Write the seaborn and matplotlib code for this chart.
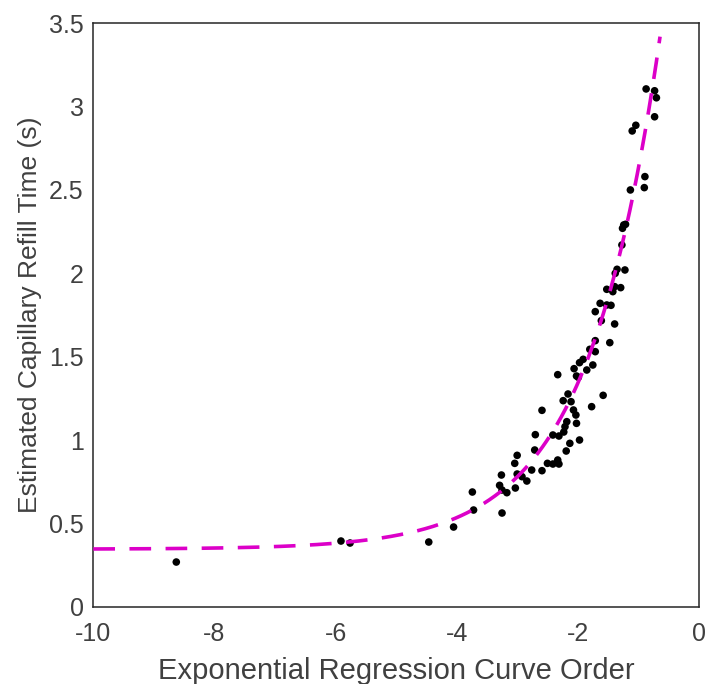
import numpy as np
import pandas as pd
import matplotlib
matplotlib.use("Agg")
import matplotlib.pyplot as plt
import seaborn as sns

curve_order = [
    -8.63, -5.91, -5.76, -4.46, -4.05, -3.74, -3.72, -3.25, -3.26, -3.29,
    -3.25, -3.17, -3.03, -3.04, -3.00, -3.00, -2.92, -2.84, -2.76, -2.59,
    -2.71, -2.70, -2.59, -2.50, -2.41, -2.33, -2.31, -2.41, -2.31, -2.19,
    -2.13, -1.97, -2.23, -2.21, -2.18, -2.02, -2.03, -2.07, -2.24, -2.11,
    -2.16, -2.33, -1.77, -1.58, -2.06, -2.02, -1.99, -1.97, -1.91, -1.85,
    -1.75, -1.80, -1.71, -1.71, -1.47, -1.61, -1.39, -1.71, -1.63, -1.52,
    -1.45, -0.87, -0.73, -0.70, -0.73, -1.04, -1.10, -0.89, -0.90, -1.13,
    -1.24, -1.21, -1.26, -1.27, -1.22, -1.38, -1.35, -1.52, -1.39, -1.29,
    -1.42,
]
refill_time = [
    0.268, 0.394, 0.382, 0.388, 0.478, 0.688, 0.580, 0.562, 0.790, 0.728,
    0.700, 0.684, 0.712, 0.860, 0.908, 0.796, 0.780, 0.754, 0.820, 0.816,
    0.940, 1.032, 1.178, 0.860, 0.856, 0.880, 0.856, 1.030, 1.024, 0.934,
    0.980, 1.000, 1.048, 1.080, 1.110, 1.100, 1.150, 1.180, 1.236, 1.230,
    1.276, 1.392, 1.200, 1.268, 1.428, 1.384, 1.376, 1.464, 1.484, 1.420,
    1.450, 1.544, 1.530, 1.596, 1.584, 1.716, 1.696, 1.770, 1.820, 1.810,
    1.808, 3.106, 3.095, 3.053, 2.939, 2.888, 2.854, 2.580, 2.514, 2.500,
    2.290, 2.294, 2.270, 2.170, 2.020, 2.000, 2.024, 1.904, 1.920, 1.914,
    1.890,
]

# exponential fit y = a + b*exp(c*x), coefficients
fit_a, fit_b, fit_c = 0.345, 5.23, 0.83
fit_x_start, fit_x_end = -10.0, -0.64

x_ticks = [-10, -8, -6, -4, -2, 0]
y_ticks = [0, 0.5, 1, 1.5, 2, 2.5, 3, 3.5]
x_label = "Exponential Regression Curve Order"
y_label = "Estimated Capillary Refill Time (s)"

sns.set_style("white")
plt.rcParams["font.family"] = ["Liberation Sans", "DejaVu Sans"]
plt.rcParams["xtick.direction"] = "in"
plt.rcParams["ytick.direction"] = "in"

df = pd.DataFrame({"order": curve_order, "crt": refill_time})
xf = np.linspace(fit_x_start, fit_x_end, 300)
df_fit = pd.DataFrame({"order": xf, "crt": fit_a + fit_b * np.exp(fit_c * xf)})

fig = plt.figure(figsize=(7.05, 6.84), dpi=100)
ax = fig.add_axes([0.1324, 0.113, 0.8588, 0.853])

sns.scatterplot(data=df, x="order", y="crt", ax=ax, color="black", s=30,
                edgecolor="none", zorder=2)
sns.lineplot(data=df_fit, x="order", y="crt", ax=ax, color="#dc00c8",
             linewidth=2.6, zorder=3)
ax.lines[-1].set_dashes((6, 4))
ax.lines[-1].set_dash_capstyle("butt")

ax.set_xlim(-10, 0)
ax.set_ylim(0, 3.5)
ax.set_xticks(x_ticks)
ax.set_xticklabels([str(t) for t in x_ticks])
ax.set_yticks(y_ticks)
ax.set_yticklabels([f"{t:g}" for t in y_ticks])

ax.tick_params(axis="both", which="both", direction="in", length=6, width=1,
               color="#262626", labelsize=18, labelcolor="#404040",
               top=False, right=False)
ax.tick_params(axis="x", pad=11)
ax.tick_params(axis="y", pad=7)
for sp in ax.spines.values():
    sp.set_visible(True)
    sp.set_color("#262626")
    sp.set_linewidth(1.1)

ax.set_xlabel(x_label, fontsize=21, color="#404040")
ax.set_ylabel(y_label, fontsize=19, color="#404040")
ax.xaxis.label.set_va("center")
ax.yaxis.label.set_va("center")
ax.xaxis.set_label_coords(0.5, -0.11)
ax.yaxis.set_label_coords(-0.105, 0.5)
ax.grid(False)

fig.savefig("out.png", dpi=100)
